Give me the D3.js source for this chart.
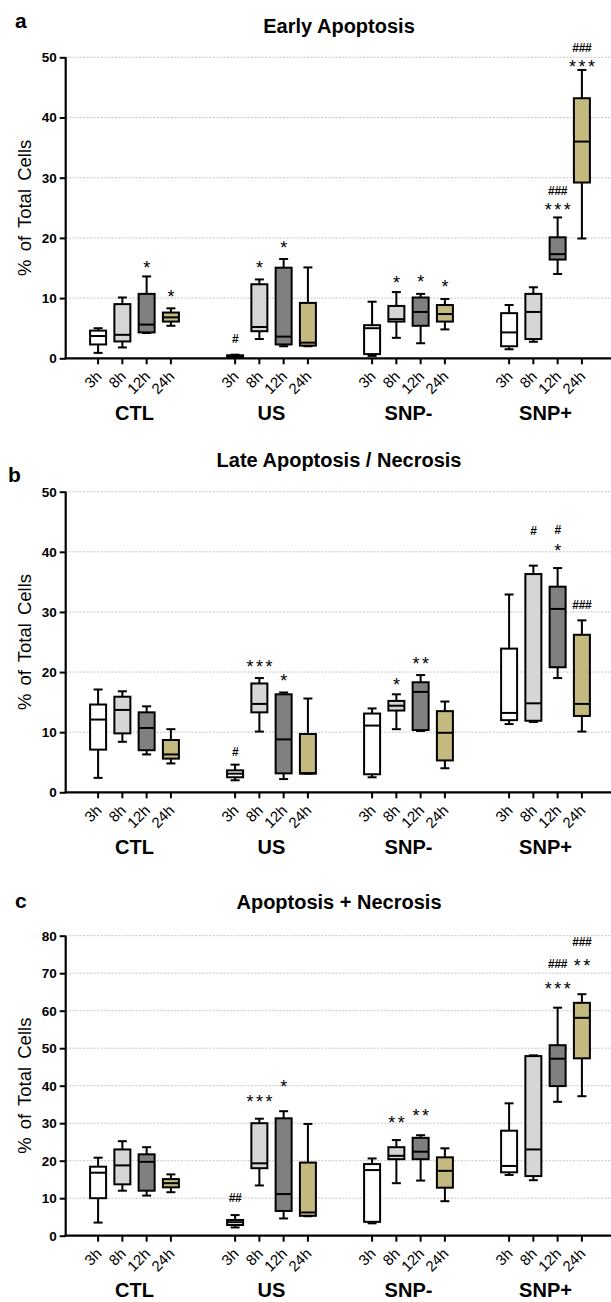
<!DOCTYPE html>
<html>
<head>
<meta charset="utf-8">
<script src="https://cdn.jsdelivr.net/npm/d3@7"></script>
<style>
  body { margin: 0; background: #fff; }
  svg { display: block; font-family: "Liberation Sans", Arial, sans-serif; }
</style>
</head>
<body>
<div id="wrapper"></div>
<script>
// groups and time points
const groups = ["CTL", "US", "SNP-", "SNP+"]
const times = ["3h", "8h", "12h", "24h"]
const timeColors = ["#ffffff", "#d6d6d6", "#808080", "#c4b97e"]

// each box: [whisker low, q1, median, q3, whisker high], order CTL 3h..24h, US.., SNP-.., SNP+..
const earlyApoptosis = [
  [0.9, 2.3, 3.7, 4.6, 5.0], [1.8, 2.8, 3.9, 9.0, 10.1], [4.2, 4.3, 5.6, 10.7, 13.6], [5.4, 6.1, 6.8, 7.6, 8.3],
  [0.1, 0.2, 0.3, 0.5, 0.6], [3.2, 4.5, 5.2, 12.3, 13.1], [2.0, 2.3, 3.6, 15.05, 16.5], [2.0, 2.1, 2.6, 9.2, 15.1],
  [0.4, 0.7, 5.0, 5.5, 9.4], [3.4, 6.1, 6.5, 8.7, 11.0], [2.5, 5.4, 7.7, 10.1, 10.7], [4.8, 6.1, 7.35, 8.85, 9.85],
  [1.5, 2.0, 4.3, 7.5, 8.85], [2.75, 3.2, 7.7, 10.7, 11.8], [14.0, 16.4, 17.3, 20.1, 23.4], [19.9, 29.2, 36.0, 43.2, 47.9]
]
const lateApoptosis = [
  [2.4, 7.1, 12.1, 14.6, 17.1], [8.4, 9.8, 13.7, 15.9, 16.8], [6.3, 7.0, 10.7, 13.3, 14.3], [4.8, 5.6, 6.3, 8.7, 10.5],
  [2.0, 2.5, 3.1, 3.65, 4.6], [10.1, 13.3, 14.7, 18.1, 19.0], [2.2, 3.15, 8.8, 16.3, 16.6], [3.1, 3.1, 3.2, 9.7, 15.6],
  [2.5, 3.0, 11.1, 13.1, 13.95], [10.5, 13.6, 14.4, 15.2, 16.3], [10.2, 10.35, 16.7, 18.3, 19.5], [4.0, 5.3, 9.9, 13.5, 15.1],
  [11.35, 12.0, 13.2, 23.9, 32.9], [11.7, 11.9, 14.8, 36.3, 37.7], [19.0, 20.8, 30.5, 34.2, 37.3], [10.1, 12.7, 14.7, 26.2, 28.6]
]
const totalDeath = [
  [3.5, 10.0, 16.8, 18.4, 20.8], [12.0, 13.7, 18.75, 23.0, 25.2], [10.7, 12.0, 19.7, 21.7, 23.6], [11.6, 12.9, 14.0, 15.1, 16.35],
  [2.2, 2.85, 3.6, 4.2, 5.5], [13.4, 18.0, 19.3, 30.0, 31.2], [4.6, 6.6, 11.1, 31.3, 33.2], [5.2, 5.3, 6.2, 19.5, 29.8],
  [3.3, 3.7, 17.5, 19.1, 20.6], [14.0, 20.4, 21.3, 23.6, 25.5], [14.7, 20.4, 22.4, 26.1, 26.8], [9.2, 12.8, 17.3, 20.9, 23.3],
  [16.2, 16.9, 18.6, 28.0, 35.3], [14.8, 15.9, 23.0, 47.9, 48.1], [35.7, 39.9, 47.2, 50.8, 60.8], [37.2, 47.3, 58.1, 62.1, 64.4]
]

// significance marks: [group, time, mark, level of the mark's centre]
const earlySig = [
  ["CTL", "12h", "*", 15.8], ["CTL", "24h", "*", 10.85],
  ["US", "3h", "#", 3.2], ["US", "8h", "*", 15.8], ["US", "12h", "*", 19.1],
  ["SNP-", "8h", "*", 13.3], ["SNP-", "12h", "*", 13.4], ["SNP-", "24h", "*", 12.6],
  ["SNP+", "12h", "***", 25.3], ["SNP+", "12h", "###", 27.8],
  ["SNP+", "24h", "***", 49.2], ["SNP+", "24h", "###", 51.6]
]
const lateSig = [
  ["US", "3h", "#", 6.7], ["US", "8h", "***", 21.5], ["US", "12h", "*", 19.2],
  ["SNP-", "8h", "*", 18.65], ["SNP-", "12h", "**", 22.0],
  ["SNP+", "8h", "#", 43.5], ["SNP+", "12h", "*", 40.8], ["SNP+", "12h", "#", 43.6],
  ["SNP+", "24h", "###", 31.2]
]
const totalSig = [
  ["US", "3h", "##", 10.1], ["US", "8h", "***", 36.8], ["US", "12h", "*", 40.9],
  ["SNP-", "8h", "**", 31.3], ["SNP-", "12h", "**", 33.1],
  ["SNP+", "12h", "***", 66.9], ["SNP+", "12h", "###", 72.5],
  ["SNP+", "24h", "**", 73.1], ["SNP+", "24h", "###", 78.4]
]

const yTicksAB = [0, 10, 20, 30, 40, 50]
const yTicksC = [0, 10, 20, 30, 40, 50, 60, 70, 80]

const panels = [
  { letter: "a", title: "Early Apoptosis", data: earlyApoptosis, sig: earlySig, ticks: yTicksAB,
    top: 57.3, zero: 358.3, titleY: 32.5, letterX: 15, letterY: 28 },
  { letter: "b", title: "Late Apoptosis / Necrosis", data: lateApoptosis, sig: lateSig, ticks: yTicksAB,
    top: 491.7, zero: 792.3, titleY: 467, letterX: 8, letterY: 482 },
  { letter: "c", title: "Apoptosis + Necrosis", data: totalDeath, sig: totalSig, ticks: yTicksC,
    top: 935.7, zero: 1235.7, titleY: 909, letterX: 15, letterY: 908 },
]

const width = 611
const height = 1302
const axisLeft = 65.7
const boxWidth = 16
const capWidth = 9

const svg = d3.select("#wrapper")
  .append("svg")
    .attr("width", width)
    .attr("height", height)

const groupScale = d3.scaleBand()
  .domain(groups)
  .range([66, 614])

const timeScale = d3.scalePoint()
  .domain(times)
  .range([-36.4, 36.4])

const xPos = (g, t) => groupScale(g) + groupScale.bandwidth() / 2 + timeScale(t)

panels.forEach(p => {
  const yMax = d3.max(p.ticks)
  const yScale = d3.scaleLinear()
    .domain([0, yMax])
    .range([p.zero, p.top])

  const g = svg.append("g")

  // gridlines
  g.append("g")
    .selectAll("line")
    .data(p.ticks.filter(d => d > 0))
    .join("line")
      .attr("x1", axisLeft)
      .attr("x2", width)
      .attr("y1", d => yScale(d))
      .attr("y2", d => yScale(d))
      .attr("stroke", "#c4c4c4")
      .attr("stroke-width", 1)
      .attr("stroke-dasharray", "2,1.5")

  // y axis
  const yAxisGenerator = d3.axisLeft(yScale)
    .tickValues(p.ticks)
    .tickSize(6)
    .tickPadding(3)
    .tickFormat(d3.format("d"))

  const yAxis = g.append("g")
    .attr("transform", `translate(${axisLeft},0)`)
    .call(yAxisGenerator)
  yAxis.select(".domain")
    .attr("d", `M0,${p.top}V${p.zero}`)
    .attr("stroke", "#000")
    .attr("stroke-width", 2.2)
  yAxis.selectAll(".tick line")
    .attr("stroke", "#000")
    .attr("stroke-width", 2)
  yAxis.selectAll(".tick text")
    .attr("font-size", 13.5)
    .attr("font-weight", "bold")
    .attr("fill", "#000")
    .attr("font-family", "Liberation Sans, Arial, sans-serif")

  // y title
  g.append("text")
    .attr("transform", `translate(31,${(p.top + p.zero) / 2}) rotate(-90)`)
    .attr("text-anchor", "middle")
    .attr("font-size", 18.5)
    .attr("word-spacing", 3)
    .text("% of Total Cells")

  // x axis line
  g.append("line")
    .attr("x1", axisLeft - 1)
    .attr("x2", width)
    .attr("y1", p.zero)
    .attr("y2", p.zero)
    .attr("stroke", "#000")
    .attr("stroke-width", 2.2)

  const boxes = []
  groups.forEach((grp, gi) => {
    times.forEach((t, ti) => {
      const v = p.data[gi * times.length + ti]
      boxes.push({ grp, t, ti, x: xPos(grp, t), lo: v[0], q1: v[1], med: v[2], q3: v[3], hi: v[4] })
    })
  })

  // x ticks
  g.append("g")
    .selectAll("line")
    .data(boxes)
    .join("line")
      .attr("x1", d => d.x)
      .attr("x2", d => d.x)
      .attr("y1", p.zero)
      .attr("y2", p.zero + 6)
      .attr("stroke", "#000")
      .attr("stroke-width", 2)

  // x tick labels
  g.append("g")
    .selectAll("text")
    .data(boxes)
    .join("text")
      .attr("transform", d => `translate(${d.x + 4.5},${p.zero + 19}) rotate(-45)`)
      .attr("text-anchor", "end")
      .attr("font-size", 15)
      .text(d => d.t)

  // group labels
  g.append("g")
    .selectAll("text")
    .data(groups)
    .join("text")
      .attr("x", d => groupScale(d) + groupScale.bandwidth() / 2)
      .attr("y", p.zero + 61.3)
      .attr("text-anchor", "middle")
      .attr("font-size", 20)
      .attr("font-weight", "bold")
      .text(d => d)

  // boxes
  const boxG = g.append("g")
    .selectAll("g")
    .data(boxes)
    .join("g")

  boxG.append("line")
    .attr("x1", d => d.x).attr("x2", d => d.x)
    .attr("y1", d => yScale(d.hi)).attr("y2", d => yScale(d.lo))
    .attr("stroke", "#000").attr("stroke-width", 2)

  boxG.append("line")
    .attr("x1", d => d.x - capWidth / 2).attr("x2", d => d.x + capWidth / 2)
    .attr("y1", d => yScale(d.hi)).attr("y2", d => yScale(d.hi))
    .attr("stroke", "#000").attr("stroke-width", 2)

  boxG.append("line")
    .attr("x1", d => d.x - capWidth / 2).attr("x2", d => d.x + capWidth / 2)
    .attr("y1", d => yScale(d.lo)).attr("y2", d => yScale(d.lo))
    .attr("stroke", "#000").attr("stroke-width", 2)

  boxG.append("rect")
    .attr("x", d => d.x - boxWidth / 2)
    .attr("width", boxWidth)
    .attr("y", d => yScale(d.q3))
    .attr("height", d => Math.max(yScale(d.q1) - yScale(d.q3), 0.5))
    .attr("fill", d => timeColors[d.ti])
    .attr("stroke", "#000")
    .attr("stroke-width", 2)

  boxG.append("line")
    .attr("x1", d => d.x - boxWidth / 2).attr("x2", d => d.x + boxWidth / 2)
    .attr("y1", d => yScale(d.med)).attr("y2", d => yScale(d.med))
    .attr("stroke", "#000").attr("stroke-width", 2)

  // significance marks
  const isStar = d => d[2][0] === "*"
  g.append("g")
    .selectAll("text")
    .data(p.sig)
    .join("text")
      .attr("x", d => xPos(d[0], d[1]) + (isStar(d) ? 1.3 : 0))
      .attr("y", d => yScale(d[3]) + (isStar(d) ? 10.4 : 4.2))
      .attr("text-anchor", "middle")
      .attr("font-size", d => isStar(d) ? 18 : 12)
      .attr("font-weight", d => isStar(d) ? "normal" : "bold")
      .attr("letter-spacing", d => isStar(d) ? 2.5 : -0.3)
      .text(d => d[2])

  // titles
  g.append("text")
    .attr("x", 339)
    .attr("y", p.titleY)
    .attr("text-anchor", "middle")
    .attr("font-size", 20)
    .attr("font-weight", "bold")
    .text(p.title)

  g.append("text")
    .attr("x", p.letterX)
    .attr("y", p.letterY)
    .attr("font-size", 21)
    .attr("font-weight", "bold")
    .text(p.letter)
})
</script>
</body>
</html>
